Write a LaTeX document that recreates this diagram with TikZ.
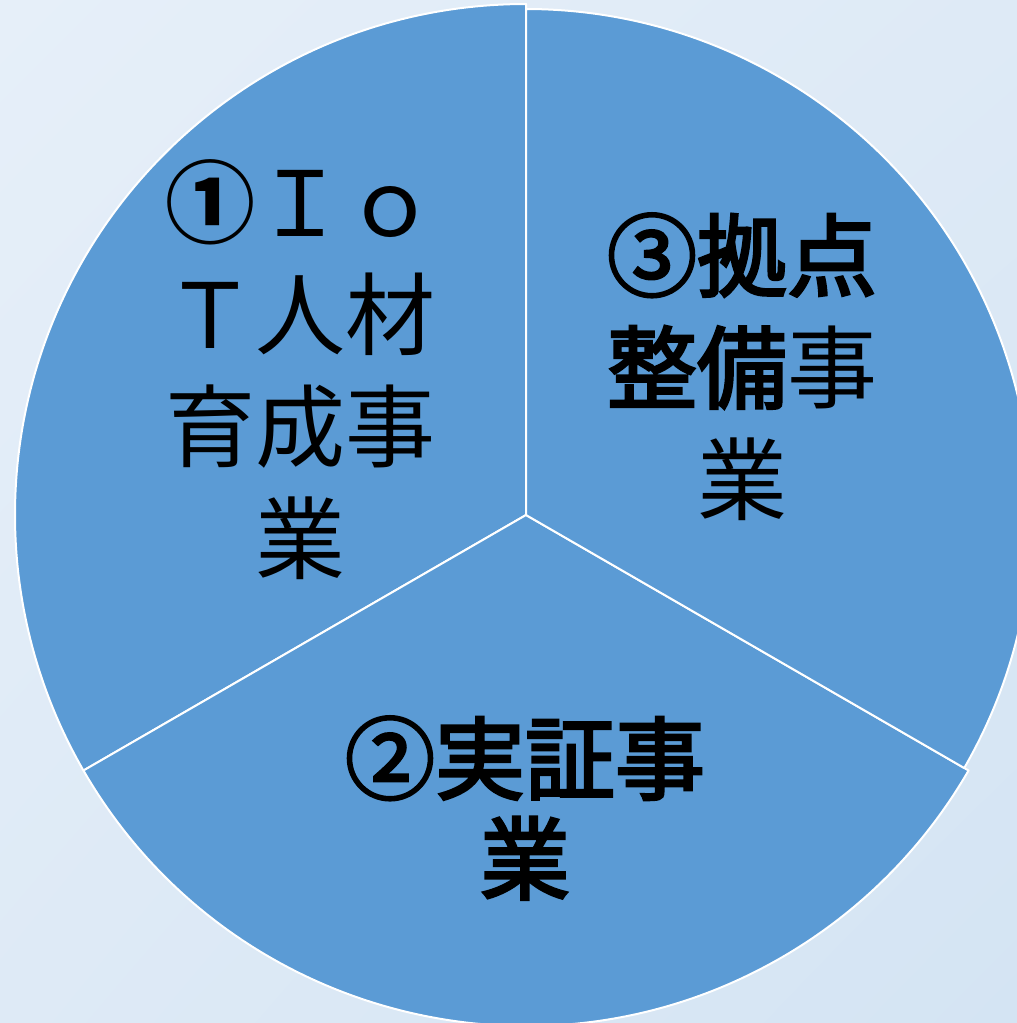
\documentclass[tikz,border=0pt]{standalone}
\usepackage{fontspec}
\usetikzlibrary{shadings}
\newfontfamily\cjk{Noto Sans CJK JP}
\newfontfamily\cjkb[FakeBold=3]{Noto Sans CJK JP}
\definecolor{bgA}{RGB}{230,239,249}
\definecolor{bgB}{RGB}{212,228,243}
\definecolor{bgC}{RGB}{222,234,246}
\definecolor{pie}{RGB}{91,155,213}
\tikzset{
  sector/.style={fill=pie, draw=white, line width=2pt, line join=round},
  label/.style={font=\cjk\fontsize{90}{112}\selectfont, align=center, inner sep=0pt, text=black}
}
\begin{document}
\begin{tikzpicture}[x=1pt,y=-1pt]
\useasboundingbox (0,0) rectangle (1017,1023);
\shade[upper left=bgA, upper right=bgC, lower left=bgC, lower right=bgB] (0,0) rectangle (1017,1023);
\begin{scope}[shift={(526,515)}, x=1pt, y=1pt]
  \filldraw[sector] (0,0) -- (90:511) arc[start angle=90, end angle=210, radius=511] -- cycle;
  \filldraw[sector] (0,0) -- (210:511) arc[start angle=210, end angle=330, radius=511] -- cycle;
  \filldraw[sector] (0,0) -- (-30:506) arc[start angle=-30, end angle=90, radius=506] -- cycle;
\end{scope}
\node[label] (iot) at (300,370) {{\bfseries ①}Ｉｏ\\Ｔ人材\\育成事\\業};
\node[label] (kyoten) at (742,367) {{\cjkb ③拠点}\\{\cjkb 整備}事\\業};
\node[label, font=\cjkb\fontsize{90}{100}\selectfont] (jissho) at (525,808) {②実証事\\業};
\end{tikzpicture}
\end{document}
